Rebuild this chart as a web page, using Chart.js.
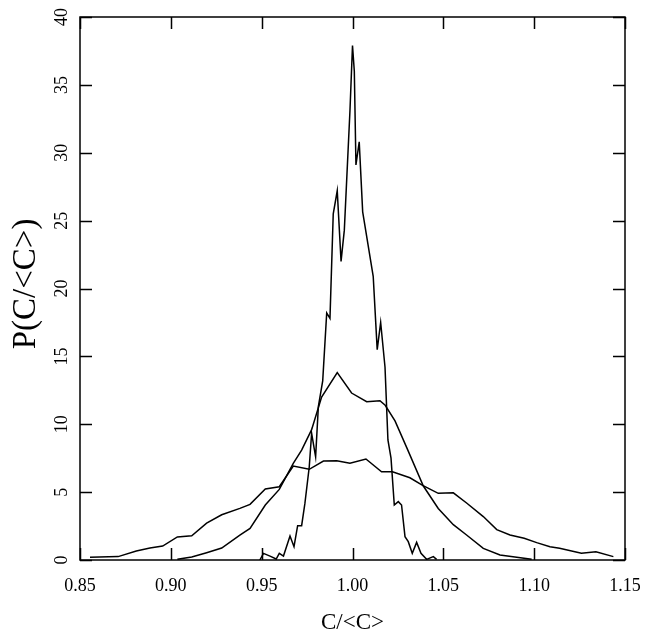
<!DOCTYPE html>
<html><head><meta charset="utf-8">
<script src="https://cdn.jsdelivr.net/npm/chart.js@4/dist/chart.umd.min.js"></script>
<style>html,body{margin:0;padding:0;background:#fff}#wrap{width:651px;height:639px}</style>
</head><body><div id="wrap"><canvas id="c" width="651" height="639"></canvas></div>
<script>
const xTickValues = [0.85, 0.90, 0.95, 1.00, 1.05, 1.10, 1.15];
const yTickValues = [0, 5, 10, 15, 20, 25, 30, 35, 40];
const xTitle = "C/<C>";
const yTitle = "P(C/<C>)";

// narrow (spiky) distribution
const narrowX = [0.949,0.951,0.9546,0.958,0.9597,0.962,0.9656,0.9678,0.9698,0.972,0.9738,0.9762,0.9775,0.9797,0.9812,0.9836,0.9858,0.9876,0.9894,0.9916,0.9937,0.9955,0.9986,1.0000,1.001,1.0019,1.0037,1.0056,1.0114,1.0136,1.0155,1.0179,1.0195,1.0212,1.023,1.0252,1.027,1.0289,1.0307,1.0329,1.0353,1.0377,1.0408,1.0445,1.0463];
const narrowY = [0,0.49,0.29,0.07,0.49,0.29,1.77,0.98,2.53,2.53,4.17,6.87,9.33,7.6,11.3,13.2,18.2,17.8,25.5,27.2,22.0,24.3,33.1,37.9,36.0,29.1,30.8,25.65,20.9,15.5,17.5,14.2,8.84,7.5,4.05,4.3,4.05,1.72,1.35,0.49,1.3,0.49,0.05,0.25,0.05];

// medium distribution
const mediumX = [0.9036,0.9115,0.9197,0.928,0.938,0.9436,0.952,0.9597,0.9674,0.972,0.9775,0.983,0.9916,0.9995,1.0078,1.0151,1.018,1.0234,1.0298,1.039,1.0472,1.0555,1.0628,1.072,1.0812,1.0904,1.0986];
const mediumY = [0.05,0.22,0.54,0.88,1.84,2.33,4.05,5.2,7.12,8.1,9.6,12.0,13.8,12.3,11.66,11.73,11.4,10.25,8.3,5.45,3.8,2.6,1.84,0.86,0.37,0.2,0.05];

// wide distribution
const wideX = [0.8555,0.871,0.881,0.8885,0.8955,0.9036,0.9115,0.9197,0.928,0.938,0.9436,0.952,0.9597,0.9674,0.9762,0.984,0.9913,0.9986,1.0074,1.016,1.022,1.0316,1.0386,1.0472,1.0555,1.0628,1.072,1.0794,1.0867,1.0945,1.1014,1.1087,1.114,1.126,1.134,1.1436];
const wideY = [0.2,0.25,0.66,0.88,1.03,1.7,1.79,2.72,3.33,3.8,4.1,5.23,5.4,6.92,6.68,7.29,7.31,7.12,7.44,6.5,6.5,6.06,5.5,4.91,4.95,4.2,3.2,2.24,1.84,1.6,1.28,0.98,0.86,0.49,0.61,0.25];

const FONT = '"Liberation Serif", "Times New Roman", serif';
const pts = (xs, ys) => xs.map((v, i) => ({x: v, y: ys[i]}));
const line = (xs, ys) => ({data: pts(xs, ys), showLine: true, borderColor: '#000', borderWidth: 1.5, pointRadius: 0, tension: 0, fill: false});

const frame = {
  id: 'frame',
  afterDraw(chart) {
    const {ctx, chartArea: a, scales: {x, y}} = chart;
    ctx.save();
    ctx.strokeStyle = '#000';
    ctx.lineWidth = 1.5;
    ctx.strokeRect(a.left, a.top, a.right - a.left, a.bottom - a.top);
    const L = 12;
    ctx.beginPath();
    x.ticks.forEach(t => {
      const px = Math.round(x.getPixelForValue(t.value)) + 0.5;
      ctx.moveTo(px, a.bottom); ctx.lineTo(px, a.bottom - L);
      ctx.moveTo(px, a.top); ctx.lineTo(px, a.top + L);
    });
    y.ticks.forEach(t => {
      const py = Math.round(y.getPixelForValue(t.value)) + 0.5;
      ctx.moveTo(a.left, py); ctx.lineTo(a.left + L, py);
      ctx.moveTo(a.right, py); ctx.lineTo(a.right - L, py);
    });
    ctx.stroke();
    ctx.fillStyle = '#000';
    ctx.font = '18px ' + FONT;
    ctx.textAlign = 'center';
    ctx.textBaseline = 'middle';
    y.ticks.forEach(t => {
      const py = y.getPixelForValue(t.value);
      ctx.save(); ctx.translate(a.left - 18, py); ctx.rotate(-Math.PI / 2);
      ctx.fillText(String(t.value), 0, 0); ctx.restore();
    });
    ctx.font = '23px ' + FONT;
    ctx.fillText(xTitle, (a.left + a.right) / 2, 623);
    ctx.font = '33px ' + FONT;
    ctx.save(); ctx.translate(26, 284); ctx.rotate(-Math.PI / 2);
    ctx.fillText(yTitle, 0, 0); ctx.restore();
    ctx.restore();
  }
};

new Chart(document.getElementById('c'), {
  type: 'scatter',
  data: {datasets: [line(wideX, wideY), line(mediumX, mediumY), line(narrowX, narrowY)]},
  options: {
    responsive: false, animation: false, devicePixelRatio: 1,
    layout: {padding: {left: 0, right: 26, top: 17, bottom: 0}},
    plugins: {legend: {display: false}, tooltip: {enabled: false}},
    scales: {
      x: {
        type: 'linear', min: 0.85, max: 1.15,
        afterBuildTicks: s => { s.ticks = xTickValues.map(v => ({value: v})); },
        afterFit: s => { s.height = 79; },
        grid: {display: false}, border: {display: false},
        ticks: {color: '#000', padding: 7, font: {family: FONT, size: 18}, maxRotation: 0, callback: v => Number(v).toFixed(2)}
      },
      y: {
        type: 'linear', min: 0, max: 40,
        afterBuildTicks: s => { s.ticks = yTickValues.map(v => ({value: v})); },
        afterFit: s => { s.width = 80; },
        grid: {display: false}, border: {display: false},
        ticks: {display: false}
      }
    }
  },
  plugins: [frame]
});
</script>
</body></html>
